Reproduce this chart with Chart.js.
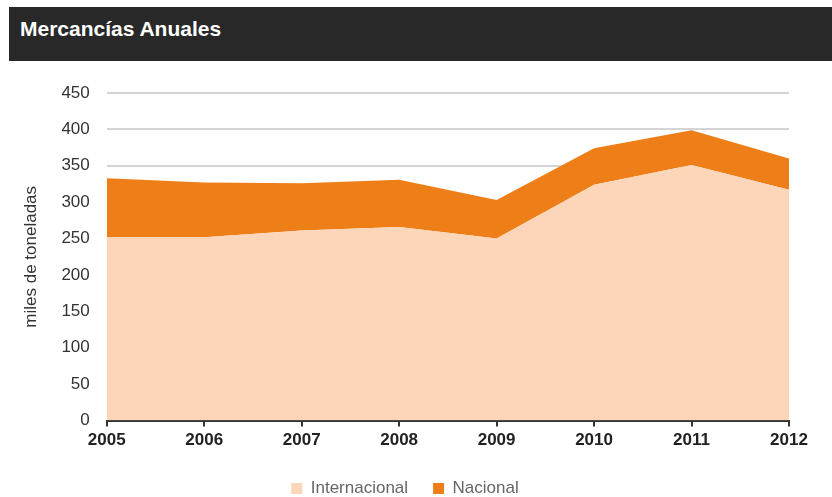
<!DOCTYPE html>
<html lang="es">
<head>
  <meta charset="UTF-8">
  <title>Mercancías Anuales</title>
  <script src="https://cdn.jsdelivr.net/npm/chart.js@4/dist/chart.umd.min.js"></script>
  <style>
    html, body { margin: 0; padding: 0; background: #fff; }
    body { width: 832px; height: 497px; position: relative; overflow: hidden; font-family: "Liberation Sans", Arial, sans-serif; }
    #head { position: absolute; left: 9px; top: 7px; width: 823px; height: 54px; background: #282828; }
    #head h1 { margin: 0; position: absolute; left: 11px; top: 10px; color: #fff; font-size: 21px; font-weight: bold; }
    #wrap { position: absolute; left: 0; top: 0; width: 832px; height: 497px; }
  </style>
</head>
<body>
  <div id="wrap"><canvas id="chart" width="832" height="497"></canvas></div>
  <div id="head"><h1>Mercancías Anuales</h1></div>
  <script>
    const years = ['2005', '2006', '2007', '2008', '2009', '2010', '2011', '2012'];
    const internacional = [252, 252, 261, 266, 250, 324, 351, 317];
    const nacional = [81, 75, 65, 65, 53, 50, 48, 43];
    const yTicks = [0, 50, 100, 150, 200, 250, 300, 350, 400, 450];

    const FONT = '"Liberation Sans", Arial, sans-serif';

    new Chart(document.getElementById('chart'), {
      type: 'line',
      data: {
        labels: years,
        datasets: [
          { label: 'Internacional', data: internacional, fill: 'origin',
            backgroundColor: '#fdd6b9', borderWidth: 0, pointRadius: 0, tension: 0 },
          { label: 'Nacional', data: nacional, fill: '-1',
            backgroundColor: '#ee7f18', borderWidth: 0, pointRadius: 0, tension: 0 },
        ],
      },
      options: {
        responsive: false,
        animation: false,
        layout: { padding: { top: 93, left: 21, right: 43, bottom: -10 } },
        scales: {
          x: {
            offset: false,
            grid: { display: true, drawOnChartArea: false, drawTicks: true, tickLength: 6, color: '#333', lineWidth: 2 },
            border: { display: true, color: '#333', width: 2 },
            ticks: { color: '#222', font: { family: FONT, size: 17, weight: 'bold' }, padding: 4, maxRotation: 0 },
          },
          y: {
            stacked: true,
            min: 0, max: 450,
            afterBuildTicks: (s) => { s.ticks = yTicks.map(v => ({ value: v })); },
            grid: { color: '#d4d4d4', lineWidth: 2, drawTicks: false },
            border: { display: false },
            ticks: { color: '#333', font: { family: FONT, size: 17 }, padding: 17 },
            title: { display: true, text: 'miles de toneladas', color: '#333',
              font: { family: FONT, size: 17 }, padding: { top: 0, bottom: 3 } },
          },
        },
        plugins: {
          legend: {
            position: 'bottom',
            labels: { color: '#666', boxWidth: 11, boxHeight: 11, padding: 25,
              font: { family: FONT, size: 17 } },
          },
          tooltip: { enabled: false },
        },
      },
    });
  </script>
</body>
</html>
